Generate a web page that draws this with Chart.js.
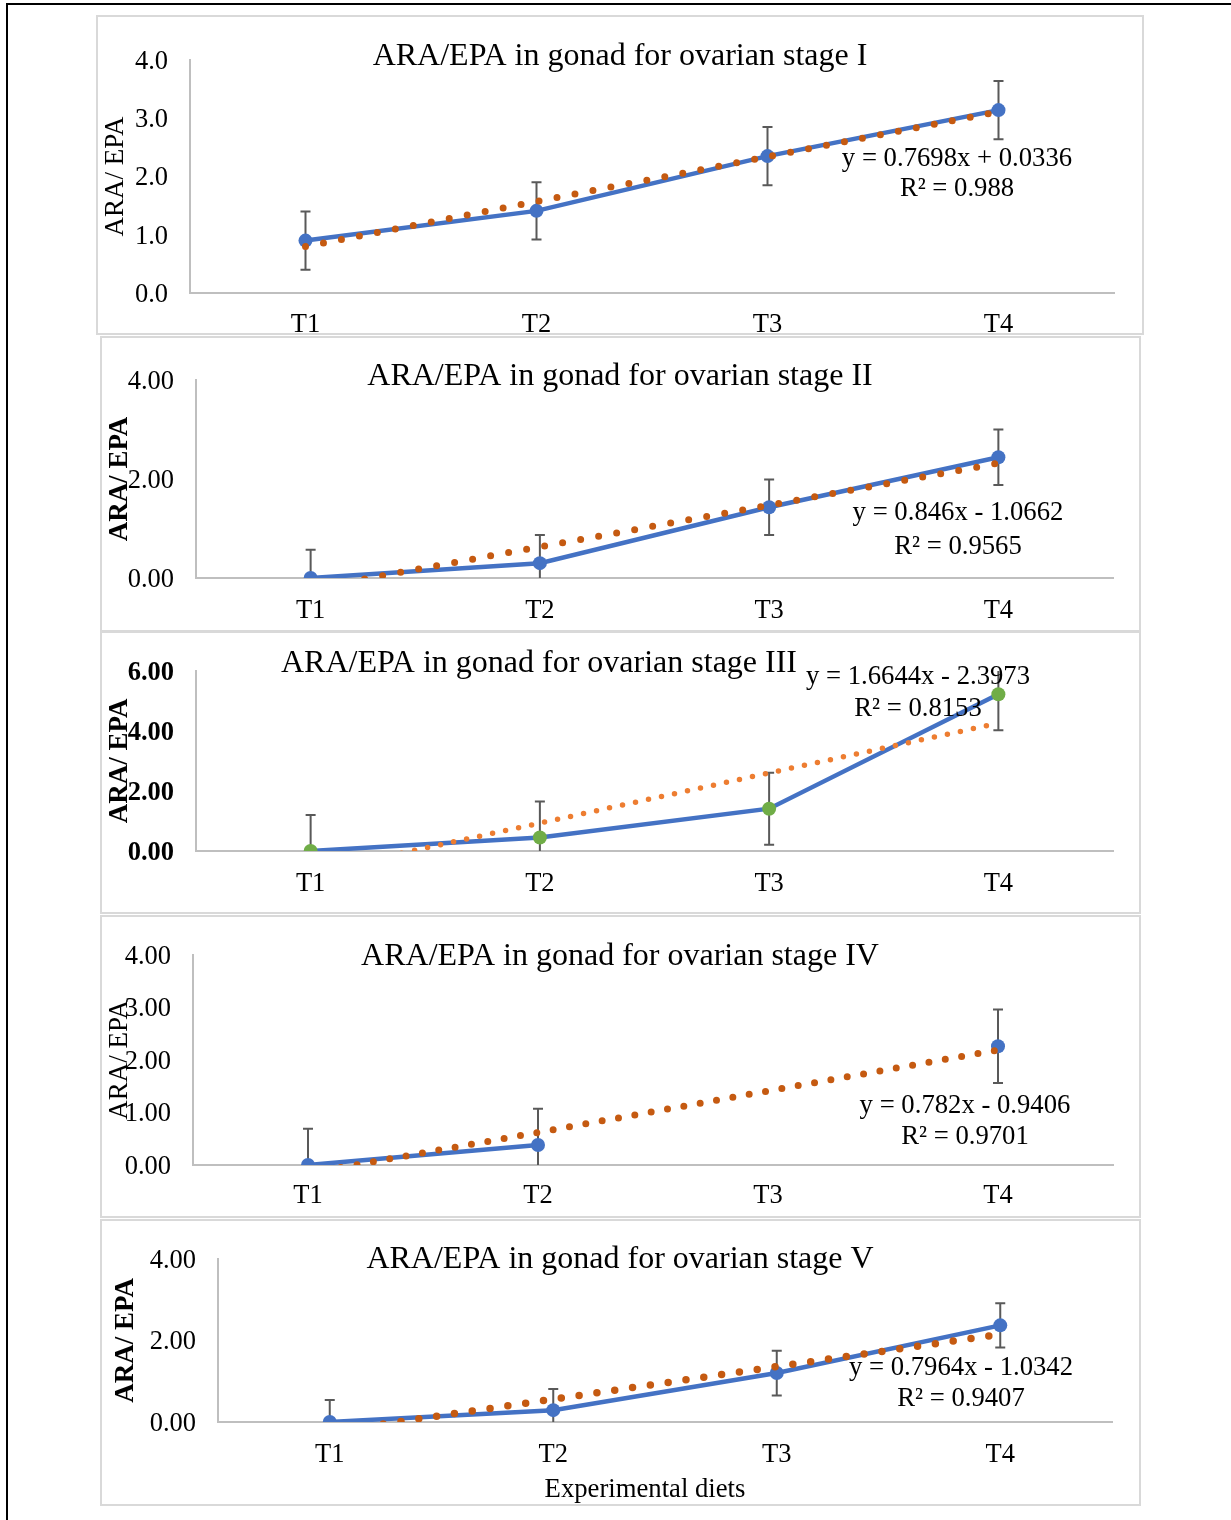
<!DOCTYPE html>
<html>
<head>
<meta charset="utf-8">
<title>ARA/EPA in gonad</title>
<script src="https://cdn.jsdelivr.net/npm/chart.js@4.4.1/dist/chart.umd.min.js"></script>
<style>
  body { margin: 0; background: #fff; }
  #page { position: relative; width: 1231px; height: 1520px; overflow: hidden; background: #fff; }
  #frame { position: absolute; left: 6px; top: 3px; width: 1260px; height: 1560px; border-top: 2px solid #000; border-left: 2px solid #000; }
  .panel { position: absolute; box-sizing: border-box; border: 2px solid #d9d9d9; background: #fff; }
  .panel canvas { display: block; }
</style>
</head>
<body>
<div id="page">
  <div id="frame"></div>
</div>
<script>
// dados
const dietas = ['T1', 'T2', 'T3', 'T4'];

const estagio1 = [0.90, 1.41, 2.35, 3.14];
const erro1 = [0.50, 0.49, 0.50, 0.50];
const tendencia1 = [0.80, 1.57, 2.34, 3.11];

const estagio2 = [0.00, 0.30, 1.43, 2.44];
const erro2 = [0.57, 0.57, 0.56, 0.56];
const tendencia2 = [-0.22, 0.63, 1.47, 2.32];

const estagio3 = [0.00, 0.45, 1.41, 5.22];
const erro3 = [1.20, 1.20, 1.20, 1.20];
const tendencia3 = [-0.73, 0.93, 2.60, 4.26];

const estagio4 = [0.00, 0.38, null, 2.26];
const erro4 = [0.69, 0.69, null, 0.70];
const tendencia4 = [-0.16, 0.62, 1.41, 2.19];

const estagio5 = [0.00, 0.29, 1.20, 2.37];
const erro5 = [0.54, 0.52, 0.55, 0.54];
const tendencia5 = [-0.24, 0.56, 1.36, 2.15];

const titulos = [
  'ARA/EPA in gonad for ovarian stage I',
  'ARA/EPA in gonad for ovarian stage II',
  'ARA/EPA in gonad for ovarian stage III',
  'ARA/EPA in gonad for ovarian stage IV',
  'ARA/EPA in gonad for ovarian stage V'
];
const equacoes = [
  ['y = 0.7698x + 0.0336', 'R² = 0.988'],
  ['y = 0.846x - 1.0662', 'R² = 0.9565'],
  ['y = 1.6644x - 2.3973', 'R² = 0.8153'],
  ['y = 0.782x - 0.9406', 'R² = 0.9701'],
  ['y = 0.7964x - 1.0342', 'R² = 0.9407']
];
const tituloEixoY = 'ARA/ EPA';
const tituloEixoX = 'Experimental diets';

const fonte = '"Liberation Serif", "Times New Roman", serif';
const azul = '#4472C4';
const laranjaEscuro = '#C55A11';
const laranja = '#ED7D31';
const verde = '#70AD47';
const cinzaEixo = '#bfbfbf';
const cinzaErro = '#595959';

// layout de cada painel (coordenadas da página)
const paineis = [
  { dados: estagio1, erro: erro1, tend: tendencia1, caixa: [96, 15, 1048, 320], area: [190, 60, 1114, 293],
    max: 4, passo: 1, casas: 1, negrito: false, ponto: azul, corTend: laranjaEscuro, dot: 7, gap: 18.3,
    tit: [620, 55], eq: [957, 157, 187], eixoYx: 116, padX: 16 },
  { dados: estagio2, erro: erro2, tend: tendencia2, caixa: [100, 336, 1041, 296], area: [196, 380, 1113, 578],
    max: 4, passo: 2, casas: 2, negrito: false, tituloNegrito: true, ponto: azul, corTend: laranjaEscuro, dot: 7, gap: 18.3,
    tit: [620, 375], eq: [958, 511, 545], eixoYx: 120, padX: 17 },
  { dados: estagio3, erro: erro3, tend: tendencia3, caixa: [100, 631, 1041, 283], area: [196, 670, 1113, 851],
    max: 6, passo: 2, casas: 2, negrito: true, tituloNegrito: true, ponto: verde, corTend: laranja, dot: 5.5, gap: 13.3,
    tit: [539, 662], eq: [918, 675, 707], eixoYx: 120, padX: 17 },
  { dados: estagio4, erro: erro4, tend: tendencia4, caixa: [100, 915, 1041, 303], area: [193, 949, 1113, 1165],
    max: 4, passo: 1, casas: 2, negrito: false, ponto: azul, corTend: laranjaEscuro, dot: 7, gap: 16.6,
    tit: [620, 955], eq: [965, 1104, 1135], eixoYx: 120, padX: 15 },
  { dados: estagio5, erro: erro5, tend: tendencia5, caixa: [100, 1219, 1041, 287], area: [218, 1258, 1112, 1422],
    max: 4, passo: 2, casas: 2, negrito: false, tituloNegrito: true, ponto: azul, corTend: laranjaEscuro, dot: 7.5, gap: 18,
    tit: [620, 1258], eq: [961, 1366, 1397], eixoYx: 126, padX: 17, rodape: [645, 1488] }
];

document.addEventListener('DOMContentLoaded', function () {
  const page = document.getElementById('page');

  paineis.forEach((p, idx) => {
    const [bx, by, bw, bh] = p.caixa;
    const ox = bx + 2, oy = by + 2;
    const cw = bw - 4, ch = bh - 4;

    const div = document.createElement('div');
    div.className = 'panel';
    div.style.left = bx + 'px';
    div.style.top = by + 'px';
    div.style.width = bw + 'px';
    div.style.height = bh + 'px';
    const canvas = document.createElement('canvas');
    canvas.width = cw;
    canvas.height = ch;
    canvas.style.width = cw + 'px';
    canvas.style.height = ch + 'px';
    div.appendChild(canvas);
    page.appendChild(div);

    const [aLeft, aTop, aRight, aBottom] = p.area;
    const larguraY = aLeft - ox;
    const alturaX = (oy + ch) - aBottom;

    // barras de erro, título e equação
    const extras = {
      id: 'extras' + idx,
      beforeDatasetsDraw(chart) {
        const { ctx, chartArea, scales } = chart;
        ctx.save();
        ctx.beginPath();
        ctx.rect(chartArea.left, chartArea.top, chartArea.right - chartArea.left, chartArea.bottom - chartArea.top);
        ctx.clip();
        ctx.strokeStyle = cinzaErro;
        ctx.lineWidth = 2;
        p.dados.forEach((v, i) => {
          if (v === null || p.erro[i] === null) return;
          const px = scales.x.getPixelForValue(i);
          const topo = scales.y.getPixelForValue(v + p.erro[i]);
          const base = scales.y.getPixelForValue(v - p.erro[i]);
          ctx.beginPath();
          ctx.moveTo(px, topo); ctx.lineTo(px, base);
          ctx.moveTo(px - 5, topo); ctx.lineTo(px + 5, topo);
          ctx.moveTo(px - 5, base); ctx.lineTo(px + 5, base);
          ctx.stroke();
        });
        ctx.restore();
      },
      afterDraw(chart) {
        const ctx = chart.ctx;
        ctx.save();
        ctx.fillStyle = '#000';
        ctx.textAlign = 'center';
        ctx.textBaseline = 'middle';
        ctx.font = '32px ' + fonte;
        ctx.fillText(titulos[idx], p.tit[0] - ox, p.tit[1] - oy + 2);
        ctx.font = '26.7px ' + fonte;
        ctx.fillText(equacoes[idx][0], p.eq[0] - ox, p.eq[1] - oy + 2);
        ctx.fillText(equacoes[idx][1], p.eq[0] - ox, p.eq[2] - oy + 2);
        if (p.rodape) {
          ctx.fillText(tituloEixoX, p.rodape[0] - ox, p.rodape[1] - oy + 2);
        }
        ctx.restore();
      }
    };

    new Chart(canvas.getContext('2d'), {
      type: 'line',
      data: {
        labels: dietas,
        datasets: [
          {
            label: 'ARA/EPA',
            data: p.dados,
            borderColor: azul,
            borderWidth: 4.5,
            pointBackgroundColor: p.ponto,
            pointBorderColor: p.ponto,
            pointBorderWidth: 0,
            pointRadius: 7,
            tension: 0,
            order: 2
          },
          {
            label: 'Linear',
            data: p.tend,
            borderColor: p.corTend,
            borderWidth: p.dot,
            borderDash: [0, p.gap],
            borderCapStyle: 'round',
            pointRadius: 0,
            tension: 0,
            order: 1
          }
        ]
      },
      options: {
        responsive: false,
        animation: false,
        events: [],
        layout: {
          padding: { top: aTop - oy, right: (ox + cw) - aRight, left: 0, bottom: 0 }
        },
        plugins: {
          legend: { display: false },
          tooltip: { enabled: false },
          title: { display: false }
        },
        scales: {
          x: {
            offset: true,
            grid: { display: false, drawTicks: false },
            border: { color: cinzaEixo, width: 2 },
            ticks: { color: '#000', padding: p.padX, font: { family: fonte, size: 26.5 } },
            afterFit: s => { s.height = alturaX; }
          },
          y: {
            min: 0,
            max: p.max,
            grid: { display: false, drawTicks: false },
            border: { color: cinzaEixo, width: 2 },
            ticks: {
              stepSize: p.passo,
              color: '#000',
              padding: 22,
              labelOffset: 2,
              font: { family: fonte, size: 26.5, weight: p.negrito ? 'bold' : 'normal' },
              callback: v => Number(v).toFixed(p.casas)
            },
            title: {
              display: true,
              text: tituloEixoY,
              color: '#000',
              font: { family: fonte, size: 27, weight: p.tituloNegrito ? 'bold' : 'normal', lineHeight: 1.2 },
              padding: { top: (p.eixoYx - ox) - 16.2, bottom: 0 }
            },
            afterFit: s => { s.width = larguraY; }
          }
        }
      },
      plugins: [extras]
    });
  });
});
</script>
</body>
</html>
